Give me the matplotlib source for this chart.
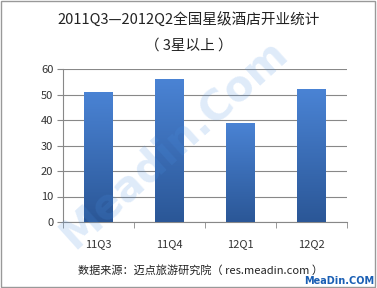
import numpy as np
import matplotlib
matplotlib.use('Agg')
from matplotlib import pyplot as plt
from matplotlib.patches import Rectangle

plt.rcParams['font.family'] = ['Noto Sans CJK SC', 'DejaVu Sans']

quarters = ['11Q3', '11Q4', '12Q1', '12Q2']
openings = [51, 56, 39, 52]
title = '2011Q3\u20142012Q2全国星级酒店开业统计'
subtitle = '（ 3星以上 ）'
source = '数据来源：迈点旅游研究院（ res.meadin.com ）'

fig = plt.figure(figsize=(3.77, 2.88), dpi=100)
ax = fig.add_axes([63/377, 1-222/288, (347-63)/377, (222-69)/288])

x = np.arange(len(quarters))
bars = ax.bar(x, openings, 0.4, color='#3a6dba', zorder=3)

# vertical gradient on each bar
grad = np.linspace(0, 1, 100).reshape(-1, 1)
cmap = matplotlib.colors.LinearSegmentedColormap.from_list('b', ['#2b5797', '#4a83d4'])
for b in bars:
    bx, bw, bh = b.get_x(), b.get_width(), b.get_height()
    im = ax.imshow(grad, extent=[bx, bx+bw, 0, bh], origin='lower', cmap=cmap,
                   aspect='auto', zorder=4)
    im.set_clip_path(b)

ax.set_xlim(-0.5, 3.5)
ax.set_ylim(0, 60)
ax.set_yticks(range(0, 61, 10))
ax.set_xticks(x)
ax.set_xticklabels(quarters)
ax.set_xticks(np.arange(-0.5, 4, 1), minor=True)
ax.tick_params(axis='x', which='major', length=0, pad=12, labelsize=8, colors='#333333')
ax.tick_params(axis='x', which='minor', length=4, color='#888888', direction='out')
ax.tick_params(axis='y', length=4, color='#888888', labelsize=8, colors='#333333', pad=3)
ax.grid(axis='y', color='#888888', linewidth=0.8, zorder=0)
for s in ['top', 'right']:
    ax.spines[s].set_visible(False)
ax.spines['bottom'].set_color('#888888')
ax.spines['left'].set_color('#888888')

fig.text(0.5, 1-20/288, title, ha='center', va='center', fontsize=10.5, color='#222222')
fig.text(0.5, 1-46/288, subtitle, ha='center', va='center', fontsize=10.5, color='#222222')
fig.text(201/377, 1-270/288, source, ha='center', va='center', fontsize=8, color='#222222')

# watermarks
fig.text(0.46, 0.5, 'Meadin.Com', ha='center', va='center', fontsize=30, rotation=42,
         color='#4a90e2', alpha=0.18, fontweight='bold', family='DejaVu Sans')
fig.text(374/377, 1-281/288, 'MeaDin.COM', ha='right', va='center', fontsize=7,
         color='#1a5fb4', fontweight='bold', family='DejaVu Sans')

fig.patches.append(Rectangle((0.003, 0.004), 0.992, 0.992, transform=fig.transFigure,
                             fill=False, edgecolor='#999999', linewidth=1))

fig.savefig('out.png', dpi=100)
